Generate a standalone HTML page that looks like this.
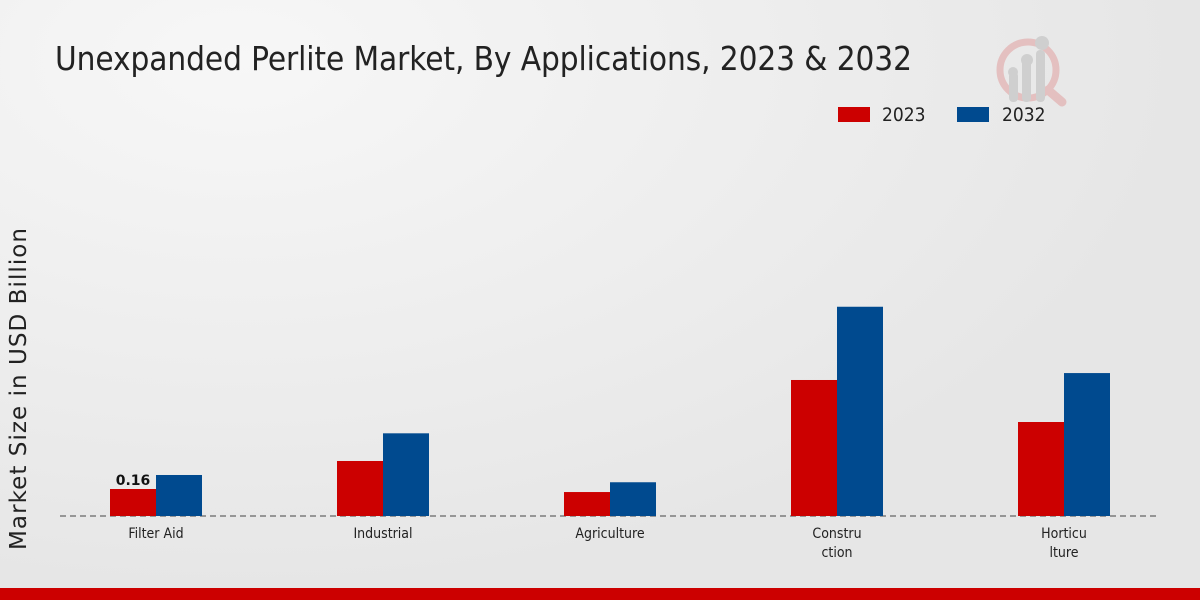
<!DOCTYPE html>
<html><head><meta charset="utf-8"><style>
body{margin:0;width:1200px;height:600px;overflow:hidden;font-family:"DejaVu Sans","Liberation Sans",sans-serif;}
#wrap{position:relative;width:1200px;height:600px;background:radial-gradient(ellipse at 20% 10%,#f7f7f7,#e6e6e6 70%);}
</style></head><body>
<div id="wrap">
<svg id="chart" width="1200" height="600">
<text x="55" y="70" font-size="33" textLength="857" fill="#222" font-family="DejaVu Sans Condensed, DejaVu Sans, sans-serif">Unexpanded Perlite Market, By Applications, 2023 &amp; 2032</text>
<g opacity="0.55">
<circle cx="1028" cy="70" r="28" fill="none" stroke="#e0a0a0" stroke-width="7"/>
<line x1="1048" y1="90" x2="1062" y2="102" stroke="#e0a0a0" stroke-width="9" stroke-linecap="round"/>
<rect x="1009" y="72" width="9" height="30" rx="4" fill="#bbb"/>
<rect x="1022" y="60" width="9" height="42" rx="4" fill="#bbb"/>
<rect x="1036" y="50" width="9" height="52" rx="4" fill="#bbb"/>
<circle cx="1013" cy="72" r="5" fill="#bbb"/><circle cx="1027" cy="60" r="6" fill="#bbb"/><circle cx="1042" cy="43" r="7" fill="#bbb"/>
</g>
<g font-family="DejaVu Sans Condensed, DejaVu Sans, sans-serif">
<rect x="838" y="107" width="32" height="15" fill="#cc0000"/>
<text x="882" y="121" font-size="19" fill="#222">2023</text>
<rect x="957" y="107" width="32" height="15" fill="#004a8f"/>
<text x="1002" y="121" font-size="19" fill="#222">2032</text>
</g>
<text transform="translate(26,389) rotate(-90)" text-anchor="middle" font-size="23" textLength="322" fill="#222">Market Size in USD Billion</text>
<line x1="60" y1="516" x2="1160" y2="516" stroke="#444" stroke-dasharray="6,4"/>
<g id="bars"></g>
<rect x="0" y="588" width="1200" height="12" fill="#cc0000"/>
</svg>
</div>
<script>
const categories=[["Filter Aid"],["Industrial"],["Agriculture"],["Constru","ction"],["Horticu","lture"]];
const values2023=[0.16,0.326,0.142,0.806,0.557];
const values2032=[0.243,0.49,0.2,1.24,0.847];
const labelShown=[0.16,null,null,null,null];
const baseY=516, pxPerUnit=168.75, firstCenter=156, spacing=227, barW=46;
const y=v=>baseY-v*pxPerUnit;
const xc=i=>firstCenter+i*spacing;
const g=document.getElementById('bars');
const ns='http://www.w3.org/2000/svg';
function mk(t,a){const e=document.createElementNS(ns,t);for(const k in a)e.setAttribute(k,a[k]);g.appendChild(e);return e;}
categories.forEach((c,i)=>{
  const r=mk('rect',{x:xc(i)-barW,y:y(values2023[i]),width:barW,height:baseY-y(values2023[i]),fill:'#cc0000'});
  
  
  const b=mk('rect',{x:xc(i),y:y(values2032[i]),width:barW,height:baseY-y(values2032[i]),fill:'#004a8f'});
  
  
  c.forEach((line,j)=>{
    const t=mk('text',{x:xc(i),y:538+j*19,'text-anchor':'middle','font-size':14,fill:'#222','font-family':'DejaVu Sans Condensed, DejaVu Sans, sans-serif'});
    t.textContent=line;
    
    
  });
  if(labelShown[i]!==null){
    const l=mk('text',{x:xc(i)-barW/2,y:y(values2023[i])-4,'text-anchor':'middle','font-size':14,'font-weight':'bold',fill:'#111'});
    l.textContent=labelShown[i];
    
    
  }
});
</script>
</body></html>
